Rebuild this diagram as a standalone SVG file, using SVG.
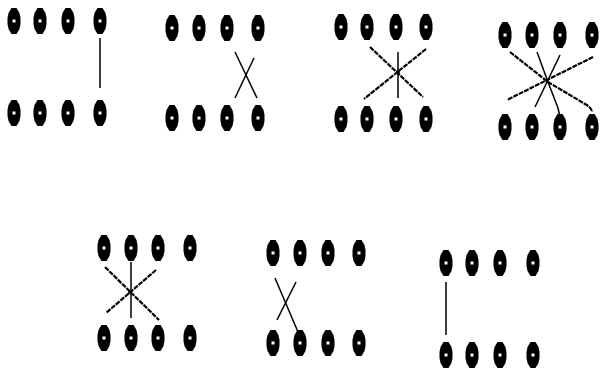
<svg xmlns="http://www.w3.org/2000/svg" width="600" height="372" viewBox="0 0 600 372">
<defs>
<g id="dot"><polygon points="-2.5,-13 2.5,-13 5.5,-8 6.5,-3 6.5,3 5.5,8 2.5,13 -2.5,13 -5.5,8 -6.5,3 -6.5,-3 -5.5,-8" fill="#000"/><rect x="-1.5" y="-1.5" width="3" height="3" fill="#fff"/></g>
</defs>
<style>
.ln{stroke:#000;stroke-width:1.5;fill:none;stroke-linecap:butt}
.jg{stroke:#000;stroke-width:2.2;fill:none;stroke-dasharray:5 1}
</style>
<rect width="600" height="372" fill="#fff"/>
<g id="panel1">
<use href="#dot" x="14" y="21"/><use href="#dot" x="40" y="21"/><use href="#dot" x="68" y="21"/><use href="#dot" x="100" y="21"/>
<use href="#dot" x="14" y="113"/><use href="#dot" x="40" y="113"/><use href="#dot" x="68" y="113"/><use href="#dot" x="100" y="113"/>
</g>
<g id="panel2">
<use href="#dot" x="172" y="28"/><use href="#dot" x="199" y="28"/><use href="#dot" x="227" y="28"/><use href="#dot" x="258" y="28"/>
<use href="#dot" x="172" y="118"/><use href="#dot" x="199" y="118"/><use href="#dot" x="227" y="118"/><use href="#dot" x="258" y="118"/>
</g>
<g id="panel3">
<use href="#dot" x="341" y="27"/><use href="#dot" x="367" y="27"/><use href="#dot" x="396" y="27"/><use href="#dot" x="426" y="27"/>
<use href="#dot" x="341" y="119"/><use href="#dot" x="367" y="119"/><use href="#dot" x="396" y="119"/><use href="#dot" x="426" y="119"/>
</g>
<g id="panel4">
<use href="#dot" x="505" y="35"/><use href="#dot" x="532" y="35"/><use href="#dot" x="560" y="35"/><use href="#dot" x="592" y="35"/>
<use href="#dot" x="505" y="127"/><use href="#dot" x="532" y="127"/><use href="#dot" x="560" y="127"/><use href="#dot" x="592" y="127"/>
</g>
<g id="panel5">
<use href="#dot" x="104" y="248"/><use href="#dot" x="131" y="248"/><use href="#dot" x="158" y="248"/><use href="#dot" x="190" y="248"/>
<use href="#dot" x="104" y="338"/><use href="#dot" x="131" y="338"/><use href="#dot" x="158" y="338"/><use href="#dot" x="190" y="338"/>
</g>
<g id="panel6">
<use href="#dot" x="273" y="253"/><use href="#dot" x="300" y="253"/><use href="#dot" x="328" y="253"/><use href="#dot" x="359" y="253"/>
<use href="#dot" x="273" y="343"/><use href="#dot" x="300" y="343"/><use href="#dot" x="328" y="343"/><use href="#dot" x="359" y="343"/>
</g>
<g id="panel7">
<use href="#dot" x="446" y="263"/><use href="#dot" x="472" y="263"/><use href="#dot" x="500" y="263"/><use href="#dot" x="533" y="263"/>
<use href="#dot" x="446" y="355"/><use href="#dot" x="472" y="355"/><use href="#dot" x="500" y="355"/><use href="#dot" x="533" y="355"/>
</g>
<g id="connectors">
<line class="ln" x1="100" y1="38" x2="100" y2="88"/>
<line class="ln" x1="235" y1="52" x2="257" y2="98"/>
<line class="ln" x1="254" y1="58" x2="235" y2="98"/>
<line class="jg" x1="370" y1="47" x2="423" y2="97"/>
<line class="jg" x1="426" y1="49" x2="364" y2="99"/>
<line class="ln" x1="398" y1="52" x2="398" y2="98"/>
<circle cx="398" cy="72" r="2" fill="#000"/>
<path class="jg" d="M510,52 L548,82 L585,104 Q592,108 592,112"/>
<line class="ln" x1="537" y1="52" x2="548" y2="82"/>
<path class="ln" d="M548,82 L558,108 L560,117"/>
<line class="ln" x1="560" y1="55" x2="535" y2="107"/>
<line class="jg" x1="593" y1="57" x2="507" y2="100"/>
<line class="jg" x1="105" y1="267" x2="159" y2="320"/>
<line class="jg" x1="156" y1="270" x2="106" y2="313"/>
<line class="ln" x1="131" y1="262" x2="131" y2="318"/>
<circle cx="130" cy="292" r="2" fill="#000"/>
<line class="ln" x1="275" y1="278" x2="298" y2="332"/>
<line class="ln" x1="296" y1="282" x2="277" y2="320"/>
<line class="ln" x1="446" y1="282" x2="446" y2="335"/>
</g>
</svg>
